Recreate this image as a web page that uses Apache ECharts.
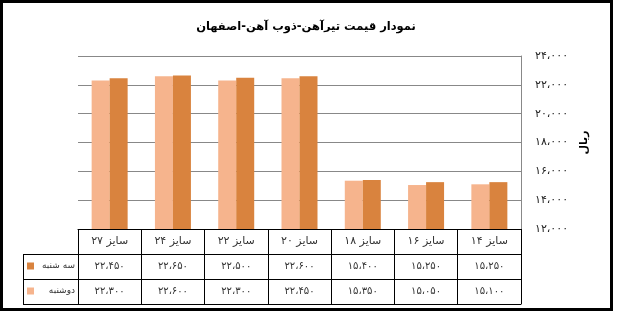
<!DOCTYPE html>
<html><head><meta charset="utf-8">
<script src="https://cdn.jsdelivr.net/npm/echarts@6/dist/echarts.min.js"></script>
<style>html,body{margin:0;padding:0;background:#fff}#c{width:618px;height:319px}</style>
</head><body><div id="c"></div>
<script>
// ---- data ----
const chartTitle = 'نمودار قیمت تیرآهن-ذوب آهن-اصفهان';
const categories = ['سایز ۲۷','سایز ۲۴','سایز ۲۲','سایز ۲۰','سایز ۱۸','سایز ۱۶','سایز ۱۴'];
const nameTue = 'سه شنبه';
const nameMon = 'دوشنبه';
const valuesTue = [22450, 22650, 22500, 22600, 15400, 15250, 15250];
const valuesMon = [22300, 22600, 22300, 22450, 15350, 15050, 15100];
const yMin = 12000, yMax = 24000, yStep = 2000;
const yAxisTitle = 'ریال';

// ---- helpers ----
const FONT = 'DejaVu Sans, Noto Sans, sans-serif';
const faDigits = '۰۱۲۳۴۵۶۷۸۹';
function toFa(n){
  return n.toLocaleString('en-US').replace(/[0-9]/g, d => faDigits[+d]).replace(/,/g, '،');
}
const COL_DARK = '#D9833E';
const COL_LIGHT = '#F6B48D';

const chart = echarts.init(document.getElementById('c'), null, {renderer: 'canvas'});
const tableAxis = (offset, labels, showTick, fs) => ({
  type: 'category', data: categories, position: 'bottom', offset: offset,
  axisLine: {show: true, lineStyle: {color: '#000', width: 1}},
  axisTick: {show: showTick, interval: 0, length: 25, lineStyle: {color: '#000', width: 1}},
  axisLabel: {show: !!labels, interval: 0, margin: 7, fontSize: fs || 10, fontFamily: FONT, color: '#333',
    formatter: (v, i) => labels ? labels[i] : ''},
  splitLine: {show: false}
});

chart.setOption({
  animation: false,
  title: {
    text: chartTitle, left: 306, textAlign: 'center', top: 21, padding: 0,
    textStyle: {fontFamily: FONT, fontSize: 11.5, fontWeight: 'bold', color: '#000'}
  },
  grid: {left: 78, right: 97, top: 56, bottom: 90, containLabel: false},
  legend: {
    orient: 'vertical', left: 27, top: 260, padding: 0, itemWidth: 7, itemHeight: 7, itemGap: 13,
    icon: 'rect', data: [nameTue, nameMon],
    formatter: n => '{l|' + n + '}',
    textStyle: {fontFamily: FONT, fontSize: 9, color: '#333', lineHeight: 12,
      rich: {l: {width: 36, align: 'right', fontSize: 9, fontFamily: FONT, color: '#333', lineHeight: 12}}}
  },
  xAxis: [
    tableAxis(0, categories, true, 11),
    tableAxis(25, valuesTue.map(toFa), true, 10),
    tableAxis(50, valuesMon.map(toFa), true, 10),
    tableAxis(75, null, false, 10)
  ],
  yAxis: {
    type: 'value', position: 'right', min: yMin, max: yMax, interval: yStep,
    axisLine: {show: true, lineStyle: {color: '#888'}},
    axisTick: {show: false},
    splitLine: {show: true, lineStyle: {color: '#888', width: 1}},
    axisLabel: {margin: 14, fontSize: 11, fontFamily: FONT, color: '#222', formatter: v => toFa(v)},
    name: yAxisTitle, nameLocation: 'middle', nameGap: 58, nameRotate: 90,
    nameTextStyle: {fontFamily: FONT, fontSize: 11, fontWeight: 'bold', color: '#000'}
  },
  series: [
    {name: nameMon, type: 'bar', xAxisIndex: 0, data: valuesMon, barWidth: 18, barGap: '0%',
     itemStyle: {color: COL_LIGHT}},
    {name: nameTue, type: 'bar', xAxisIndex: 0, data: valuesTue, barWidth: 18, barGap: '0%',
     itemStyle: {color: COL_DARK}}
  ],
  graphic: [
    {type: 'rect', silent: true, shape: {x: 1.5, y: 1.5, width: 610, height: 308},
     style: {fill: 'none', stroke: '#000', lineWidth: 3}},
    {type: 'line', silent: true, shape: {x1: 23, y1: 254.5, x2: 78, y2: 254.5}, style: {stroke: '#000', lineWidth: 1}},
    {type: 'line', silent: true, shape: {x1: 23, y1: 279.5, x2: 78, y2: 279.5}, style: {stroke: '#000', lineWidth: 1}},
    {type: 'line', silent: true, shape: {x1: 23, y1: 304.5, x2: 78, y2: 304.5}, style: {stroke: '#000', lineWidth: 1}},
    {type: 'line', silent: true, shape: {x1: 23.5, y1: 254, x2: 23.5, y2: 305}, style: {stroke: '#000', lineWidth: 1}}
  ]
});
</script>
</body></html>
